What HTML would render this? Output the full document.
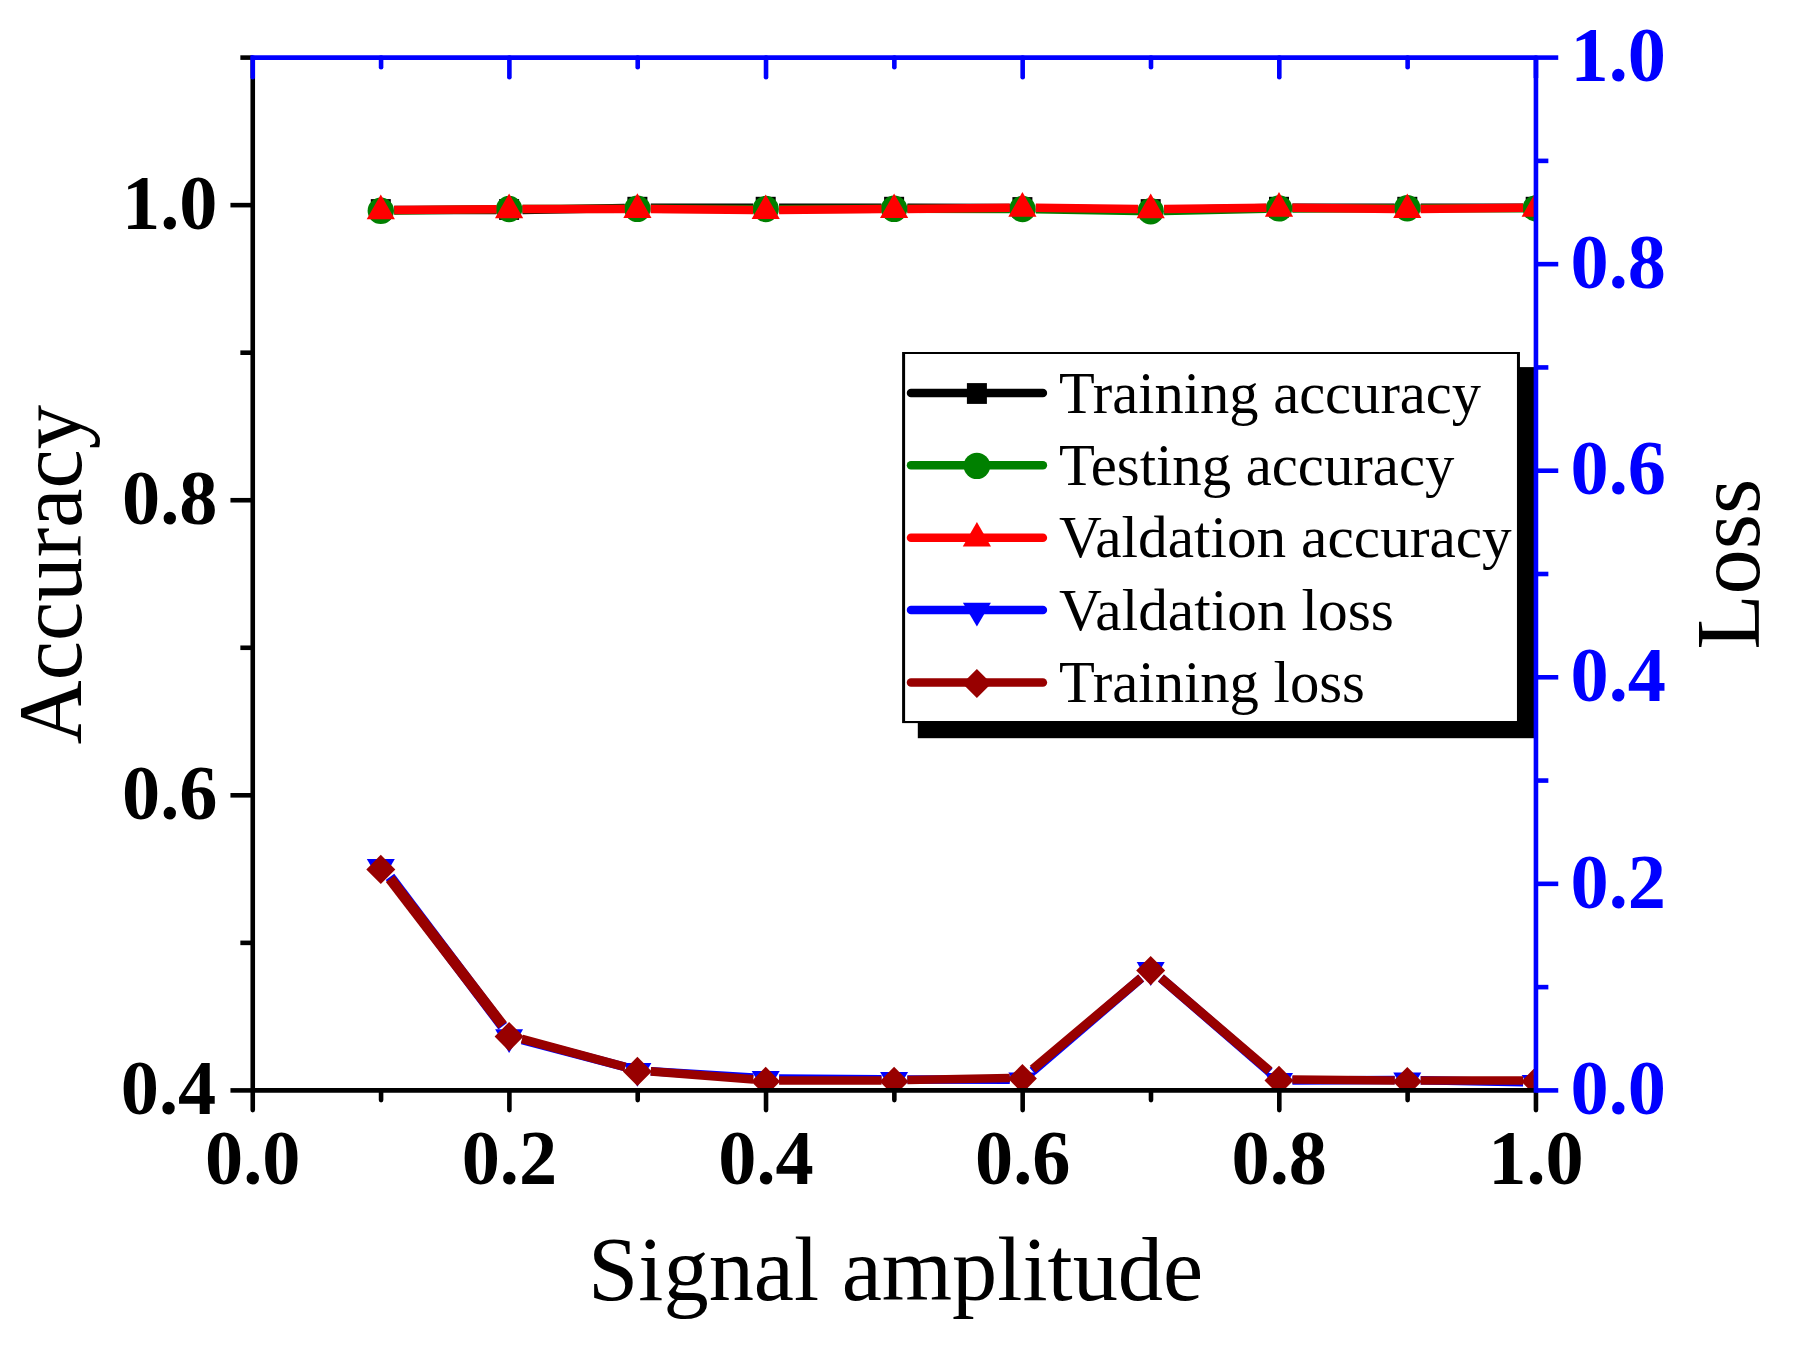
<!DOCTYPE html>
<html lang="en"><head><meta charset="utf-8"><title>Accuracy and loss vs signal amplitude</title>
<style>
html,body{margin:0;padding:0;background:#fff;}
body{width:1793px;height:1346px;overflow:hidden;}
svg{display:block;}
text{font-family:"Liberation Serif","Times New Roman",serif;}
.tk{font-weight:bold;font-size:75px;}
.ax{font-size:90px;}
.lg{font-size:60px;}
</style></head><body>
<svg width="1793" height="1346" viewBox="0 0 1793 1346">
<rect x="0" y="0" width="1793" height="1346" fill="#ffffff"/>
<defs><clipPath id="plot"><rect x="252.75" y="57.6" width="1281.20" height="1032.8000000000002"/></clipPath></defs>
<g clip-path="url(#plot)">
<line x1="394.2" y1="210.1" x2="496.5" y2="210.1" stroke="#000000" stroke-width="8.5"/>
<line x1="522.5" y1="209.9" x2="624.8" y2="208.0" stroke="#000000" stroke-width="8.5"/>
<line x1="650.8" y1="207.8" x2="753.1" y2="207.8" stroke="#000000" stroke-width="8.5"/>
<line x1="779.1" y1="207.8" x2="881.5" y2="207.8" stroke="#000000" stroke-width="8.5"/>
<line x1="907.4" y1="207.8" x2="1009.8" y2="208.1" stroke="#000000" stroke-width="8.5"/>
<line x1="1035.8" y1="208.3" x2="1138.1" y2="209.9" stroke="#000000" stroke-width="8.5"/>
<line x1="1164.1" y1="209.9" x2="1266.4" y2="208.0" stroke="#000000" stroke-width="8.5"/>
<line x1="1292.4" y1="207.8" x2="1394.7" y2="207.8" stroke="#000000" stroke-width="8.5"/>
<line x1="1420.7" y1="207.8" x2="1523.1" y2="207.8" stroke="#000000" stroke-width="8.5"/>
<rect x="370.8" y="199.1" width="20.0" height="20.8" fill="#000000"/>
<rect x="499.1" y="199.1" width="20.0" height="20.8" fill="#000000"/>
<rect x="627.4" y="196.8" width="20.0" height="20.8" fill="#000000"/>
<rect x="755.7" y="196.8" width="20.0" height="20.8" fill="#000000"/>
<rect x="884.1" y="196.8" width="20.0" height="20.8" fill="#000000"/>
<rect x="1012.4" y="197.1" width="20.0" height="20.8" fill="#000000"/>
<rect x="1140.7" y="199.1" width="20.0" height="20.8" fill="#000000"/>
<rect x="1269.0" y="196.8" width="20.0" height="20.8" fill="#000000"/>
<rect x="1397.3" y="196.8" width="20.0" height="20.8" fill="#000000"/>
<rect x="1525.7" y="196.8" width="20.0" height="20.8" fill="#000000"/>
<line x1="394.2" y1="210.6" x2="496.5" y2="209.2" stroke="#008000" stroke-width="8.5"/>
<line x1="522.5" y1="209.0" x2="624.8" y2="208.8" stroke="#008000" stroke-width="8.5"/>
<line x1="650.8" y1="208.8" x2="753.1" y2="209.0" stroke="#008000" stroke-width="8.5"/>
<line x1="779.1" y1="209.0" x2="881.5" y2="208.8" stroke="#008000" stroke-width="8.5"/>
<line x1="907.4" y1="208.8" x2="1009.8" y2="209.0" stroke="#008000" stroke-width="8.5"/>
<line x1="1035.8" y1="209.2" x2="1138.1" y2="211.0" stroke="#008000" stroke-width="8.5"/>
<line x1="1164.1" y1="210.9" x2="1266.4" y2="208.7" stroke="#008000" stroke-width="8.5"/>
<line x1="1292.4" y1="208.4" x2="1394.7" y2="208.2" stroke="#008000" stroke-width="8.5"/>
<line x1="1420.7" y1="208.2" x2="1523.1" y2="208.3" stroke="#008000" stroke-width="8.5"/>
<circle cx="380.8" cy="210.8" r="13.2" fill="#008000"/>
<circle cx="509.1" cy="209.0" r="13.2" fill="#008000"/>
<circle cx="637.4" cy="208.8" r="13.2" fill="#008000"/>
<circle cx="765.7" cy="209.0" r="13.2" fill="#008000"/>
<circle cx="894.1" cy="208.8" r="13.2" fill="#008000"/>
<circle cx="1022.4" cy="209.0" r="13.2" fill="#008000"/>
<circle cx="1150.7" cy="211.2" r="13.2" fill="#008000"/>
<circle cx="1279.0" cy="208.4" r="13.2" fill="#008000"/>
<circle cx="1407.3" cy="208.2" r="13.2" fill="#008000"/>
<circle cx="1535.7" cy="208.3" r="13.2" fill="#008000"/>
<line x1="394.2" y1="210.1" x2="496.5" y2="209.3" stroke="#ff0000" stroke-width="8.5"/>
<line x1="522.5" y1="209.1" x2="624.8" y2="208.9" stroke="#ff0000" stroke-width="8.5"/>
<line x1="650.8" y1="209.0" x2="753.1" y2="209.9" stroke="#ff0000" stroke-width="8.5"/>
<line x1="779.1" y1="209.9" x2="881.5" y2="209.1" stroke="#ff0000" stroke-width="8.5"/>
<line x1="907.4" y1="208.9" x2="1009.8" y2="207.7" stroke="#ff0000" stroke-width="8.5"/>
<line x1="1035.8" y1="207.7" x2="1138.1" y2="209.0" stroke="#ff0000" stroke-width="8.5"/>
<line x1="1164.1" y1="209.0" x2="1266.4" y2="207.7" stroke="#ff0000" stroke-width="8.5"/>
<line x1="1292.4" y1="207.7" x2="1394.7" y2="208.9" stroke="#ff0000" stroke-width="8.5"/>
<line x1="1420.7" y1="208.9" x2="1523.1" y2="207.7" stroke="#ff0000" stroke-width="8.5"/>
<polygon points="380.8,194.6 394.9,219.3 366.7,219.3" fill="#ff0000"/>
<polygon points="509.1,193.5 523.2,218.2 495.0,218.2" fill="#ff0000"/>
<polygon points="637.4,193.3 651.5,218.0 623.3,218.0" fill="#ff0000"/>
<polygon points="765.7,194.4 779.8,219.1 751.6,219.1" fill="#ff0000"/>
<polygon points="894.1,193.4 908.2,218.1 880.0,218.1" fill="#ff0000"/>
<polygon points="1022.4,191.9 1036.5,216.7 1008.3,216.7" fill="#ff0000"/>
<polygon points="1150.7,193.6 1164.8,218.3 1136.6,218.3" fill="#ff0000"/>
<polygon points="1279.0,191.9 1293.1,216.7 1264.9,216.7" fill="#ff0000"/>
<polygon points="1407.3,193.4 1421.4,218.1 1393.2,218.1" fill="#ff0000"/>
<polygon points="1535.7,192.0 1549.8,216.7 1521.6,216.7" fill="#ff0000"/>
<line x1="390.0" y1="876.9" x2="502.7" y2="1026.3" stroke="#0000ff" stroke-width="10.7"/>
<line x1="522.1" y1="1040.0" x2="625.2" y2="1067.1" stroke="#0000ff" stroke-width="8.8"/>
<line x1="650.8" y1="1071.2" x2="753.2" y2="1077.6" stroke="#0000ff" stroke-width="8.6"/>
<line x1="779.1" y1="1078.5" x2="881.5" y2="1079.2" stroke="#0000ff" stroke-width="8.5"/>
<line x1="907.4" y1="1079.4" x2="1009.8" y2="1079.7" stroke="#0000ff" stroke-width="8.5"/>
<line x1="1032.6" y1="1071.3" x2="1141.2" y2="978.0" stroke="#0000ff" stroke-width="9.2"/>
<line x1="1160.9" y1="978.0" x2="1269.6" y2="1071.9" stroke="#0000ff" stroke-width="9.2"/>
<line x1="1292.4" y1="1080.4" x2="1394.7" y2="1080.0" stroke="#0000ff" stroke-width="8.5"/>
<line x1="1420.7" y1="1080.2" x2="1523.1" y2="1082.2" stroke="#0000ff" stroke-width="8.5"/>
<polygon points="366.8,859.1 394.8,859.1 380.8,882.9" fill="#0000ff"/>
<polygon points="495.1,1029.3 523.1,1029.3 509.1,1053.1" fill="#0000ff"/>
<polygon points="623.4,1063.0 651.4,1063.0 637.4,1086.8" fill="#0000ff"/>
<polygon points="751.7,1071.0 779.7,1071.0 765.7,1094.8" fill="#0000ff"/>
<polygon points="880.1,1071.9 908.1,1071.9 894.1,1095.7" fill="#0000ff"/>
<polygon points="1008.4,1072.4 1036.4,1072.4 1022.4,1096.2" fill="#0000ff"/>
<polygon points="1136.7,962.1 1164.7,962.1 1150.7,985.9" fill="#0000ff"/>
<polygon points="1265.0,1073.0 1293.0,1073.0 1279.0,1096.8" fill="#0000ff"/>
<polygon points="1393.3,1072.6 1421.3,1072.6 1407.3,1096.4" fill="#0000ff"/>
<polygon points="1521.7,1075.0 1549.7,1075.0 1535.7,1098.8" fill="#0000ff"/>
<line x1="390.1" y1="878.7" x2="502.6" y2="1025.3" stroke="#980000" stroke-width="10.7"/>
<line x1="522.0" y1="1039.0" x2="625.3" y2="1067.0" stroke="#980000" stroke-width="8.8"/>
<line x1="650.8" y1="1071.4" x2="753.2" y2="1079.4" stroke="#980000" stroke-width="8.6"/>
<line x1="779.1" y1="1080.4" x2="881.5" y2="1080.4" stroke="#980000" stroke-width="8.5"/>
<line x1="907.4" y1="1080.1" x2="1009.8" y2="1077.9" stroke="#980000" stroke-width="8.5"/>
<line x1="1032.7" y1="1069.2" x2="1141.1" y2="978.0" stroke="#980000" stroke-width="9.1"/>
<line x1="1161.0" y1="978.1" x2="1269.5" y2="1070.9" stroke="#980000" stroke-width="9.2"/>
<line x1="1292.4" y1="1079.5" x2="1394.7" y2="1080.4" stroke="#980000" stroke-width="8.5"/>
<line x1="1420.7" y1="1080.5" x2="1523.1" y2="1080.5" stroke="#980000" stroke-width="8.5"/>
<polygon points="380.8,854.8 395.3,869.4 380.8,884.0 366.3,869.4" fill="#980000"/>
<polygon points="509.1,1022.0 523.6,1036.6 509.1,1051.2 494.6,1036.6" fill="#980000"/>
<polygon points="637.4,1056.8 651.9,1071.4 637.4,1086.0 622.9,1071.4" fill="#980000"/>
<polygon points="765.7,1066.8 780.2,1081.4 765.7,1096.0 751.2,1081.4" fill="#980000"/>
<polygon points="894.1,1066.8 908.6,1081.4 894.1,1096.0 879.6,1081.4" fill="#980000"/>
<polygon points="1022.4,1064.0 1036.9,1078.6 1022.4,1093.2 1007.9,1078.6" fill="#980000"/>
<polygon points="1150.7,956.0 1165.2,970.6 1150.7,985.2 1136.2,970.6" fill="#980000"/>
<polygon points="1279.0,1065.8 1293.5,1080.4 1279.0,1095.0 1264.5,1080.4" fill="#980000"/>
<polygon points="1407.3,1066.9 1421.8,1081.5 1407.3,1096.1 1392.8,1081.5" fill="#980000"/>
<polygon points="1535.7,1066.9 1550.2,1081.5 1535.7,1096.1 1521.2,1081.5" fill="#980000"/>
</g>
<g stroke="#000000" stroke-width="4.6" fill="none">
<line x1="252.75" y1="57.6" x2="252.75" y2="1090.4"/>
<line x1="252.75" y1="1090.4" x2="1535.95" y2="1090.4"/>
<line x1="252.75" y1="1090.40" x2="230.45" y2="1090.40"/>
<line x1="252.75" y1="942.86" x2="240.35" y2="942.86"/>
<line x1="252.75" y1="795.31" x2="230.45" y2="795.31"/>
<line x1="252.75" y1="647.77" x2="240.35" y2="647.77"/>
<line x1="252.75" y1="500.23" x2="230.45" y2="500.23"/>
<line x1="252.75" y1="352.69" x2="240.35" y2="352.69"/>
<line x1="252.75" y1="205.14" x2="230.45" y2="205.14"/>
<line x1="252.75" y1="57.60" x2="240.35" y2="57.60"/>
<line x1="252.75" y1="1090.40" x2="252.75" y2="1110.10" stroke-linecap="round"/>
<line x1="381.07" y1="1090.40" x2="381.07" y2="1100.10" stroke-linecap="round"/>
<line x1="509.39" y1="1090.40" x2="509.39" y2="1110.10" stroke-linecap="round"/>
<line x1="637.71" y1="1090.40" x2="637.71" y2="1100.10" stroke-linecap="round"/>
<line x1="766.03" y1="1090.40" x2="766.03" y2="1110.10" stroke-linecap="round"/>
<line x1="894.35" y1="1090.40" x2="894.35" y2="1100.10" stroke-linecap="round"/>
<line x1="1022.67" y1="1090.40" x2="1022.67" y2="1110.10" stroke-linecap="round"/>
<line x1="1150.99" y1="1090.40" x2="1150.99" y2="1100.10" stroke-linecap="round"/>
<line x1="1279.31" y1="1090.40" x2="1279.31" y2="1110.10" stroke-linecap="round"/>
<line x1="1407.63" y1="1090.40" x2="1407.63" y2="1100.10" stroke-linecap="round"/>
<line x1="1535.95" y1="1090.40" x2="1535.95" y2="1110.10" stroke-linecap="round"/>
</g>
<rect x="917.8" y="367.1" width="617.85" height="371.10" fill="#000"/>
<rect x="902.1" y="352.0" width="617.85" height="371.10" fill="#000"/>
<rect x="905.1" y="354.0" width="611.85" height="367.00" fill="#fff"/>
<line x1="911.0" y1="392.9" x2="1042.9" y2="392.9" stroke="#000000" stroke-width="8.5" stroke-linecap="round"/>
<rect x="966.9" y="383.1" width="20.0" height="20.8" fill="#000000"/>
<text class="lg" transform="translate(1059,412.6) scale(0.976,1)">Training accuracy</text>
<line x1="911.0" y1="465.3" x2="1042.9" y2="465.3" stroke="#008000" stroke-width="8.5" stroke-linecap="round"/>
<circle cx="976.9" cy="465.9" r="13.2" fill="#008000"/>
<text class="lg" transform="translate(1059,485.0) scale(0.979,1)">Testing accuracy</text>
<line x1="911.0" y1="537.7" x2="1042.9" y2="537.7" stroke="#ff0000" stroke-width="8.5" stroke-linecap="round"/>
<polygon points="976.9,521.9 991.0,546.6 962.8,546.6" fill="#ff0000"/>
<text class="lg" transform="translate(1059,557.4) scale(0.9886,1)">Valdation accuracy</text>
<line x1="911.0" y1="610.1" x2="1042.9" y2="610.1" stroke="#0000ff" stroke-width="8.5" stroke-linecap="round"/>
<polygon points="962.9,602.7 990.9,602.7 976.9,626.5" fill="#0000ff"/>
<text class="lg" transform="translate(1059,629.8) scale(0.99,1)">Valdation loss</text>
<line x1="911.0" y1="682.5" x2="1042.9" y2="682.5" stroke="#980000" stroke-width="8.5" stroke-linecap="round"/>
<polygon points="976.9,668.9 991.4,683.5 976.9,698.1 962.4,683.5" fill="#980000"/>
<text class="lg" transform="translate(1059,702.2) scale(0.978,1)">Training loss</text>
<g stroke="#0000ff" stroke-width="4.6" fill="none">
<line x1="250.45" y1="57.6" x2="1535.95" y2="57.6"/>
<line x1="1535.95" y1="57.6" x2="1535.95" y2="1092.7"/>
<line x1="252.75" y1="57.60" x2="252.75" y2="77.30" stroke-linecap="round"/>
<line x1="381.07" y1="57.60" x2="381.07" y2="67.30" stroke-linecap="round"/>
<line x1="509.39" y1="57.60" x2="509.39" y2="77.30" stroke-linecap="round"/>
<line x1="637.71" y1="57.60" x2="637.71" y2="67.30" stroke-linecap="round"/>
<line x1="766.03" y1="57.60" x2="766.03" y2="77.30" stroke-linecap="round"/>
<line x1="894.35" y1="57.60" x2="894.35" y2="67.30" stroke-linecap="round"/>
<line x1="1022.67" y1="57.60" x2="1022.67" y2="77.30" stroke-linecap="round"/>
<line x1="1150.99" y1="57.60" x2="1150.99" y2="67.30" stroke-linecap="round"/>
<line x1="1279.31" y1="57.60" x2="1279.31" y2="77.30" stroke-linecap="round"/>
<line x1="1407.63" y1="57.60" x2="1407.63" y2="67.30" stroke-linecap="round"/>
<line x1="1535.95" y1="57.60" x2="1535.95" y2="77.30" stroke-linecap="round"/>
<line x1="1535.95" y1="1090.40" x2="1558.25" y2="1090.40"/>
<line x1="1535.95" y1="987.12" x2="1548.35" y2="987.12"/>
<line x1="1535.95" y1="883.84" x2="1558.25" y2="883.84"/>
<line x1="1535.95" y1="780.56" x2="1548.35" y2="780.56"/>
<line x1="1535.95" y1="677.28" x2="1558.25" y2="677.28"/>
<line x1="1535.95" y1="574.00" x2="1548.35" y2="574.00"/>
<line x1="1535.95" y1="470.72" x2="1558.25" y2="470.72"/>
<line x1="1535.95" y1="367.44" x2="1548.35" y2="367.44"/>
<line x1="1535.95" y1="264.16" x2="1558.25" y2="264.16"/>
<line x1="1535.95" y1="160.88" x2="1548.35" y2="160.88"/>
<line x1="1535.95" y1="57.60" x2="1558.25" y2="57.60"/>
</g>
<g class="tk" fill="#000000" text-anchor="end">
<text transform="translate(216.2,1114.1) scale(1.018,1.037)">0.4</text>
<text transform="translate(217.4,819.0) scale(1.018,1.037)">0.6</text>
<text transform="translate(217.4,523.9) scale(1.018,1.037)">0.8</text>
<text transform="translate(217.4,228.8) scale(1.018,1.037)">1.0</text>
</g>
<g class="tk" fill="#000000" text-anchor="middle">
<text transform="translate(252.8,1183.9) scale(1.018,1.037)">0.0</text>
<text transform="translate(509.4,1183.9) scale(1.018,1.037)">0.2</text>
<text transform="translate(766.0,1183.9) scale(1.018,1.037)">0.4</text>
<text transform="translate(1022.7,1183.9) scale(1.018,1.037)">0.6</text>
<text transform="translate(1279.3,1183.9) scale(1.018,1.037)">0.8</text>
<text transform="translate(1536.0,1183.9) scale(1.018,1.037)">1.0</text>
</g>
<g class="tk" fill="#0000ff" text-anchor="start">
<text transform="translate(1570.6,1114.1) scale(1.018,1.037)">0.0</text>
<text transform="translate(1570.6,907.5) scale(1.018,1.037)">0.2</text>
<text transform="translate(1570.6,701.0) scale(1.018,1.037)">0.4</text>
<text transform="translate(1570.6,494.4) scale(1.018,1.037)">0.6</text>
<text transform="translate(1570.6,287.9) scale(1.018,1.037)">0.8</text>
<text transform="translate(1570.6,81.3) scale(1.018,1.037)">1.0</text>
</g>
<text class="ax" text-anchor="middle" transform="translate(895.6,1300) scale(1.0045,1.019)">Signal amplitude</text>
<text class="ax" text-anchor="middle" transform="translate(80.8,574.6) rotate(-90) scale(0.985,1)">Accuracy</text>
<text class="ax" text-anchor="middle" transform="translate(1759.0,564.2) rotate(-90) scale(1.005,1.013)">Loss</text>
</svg></body></html>
